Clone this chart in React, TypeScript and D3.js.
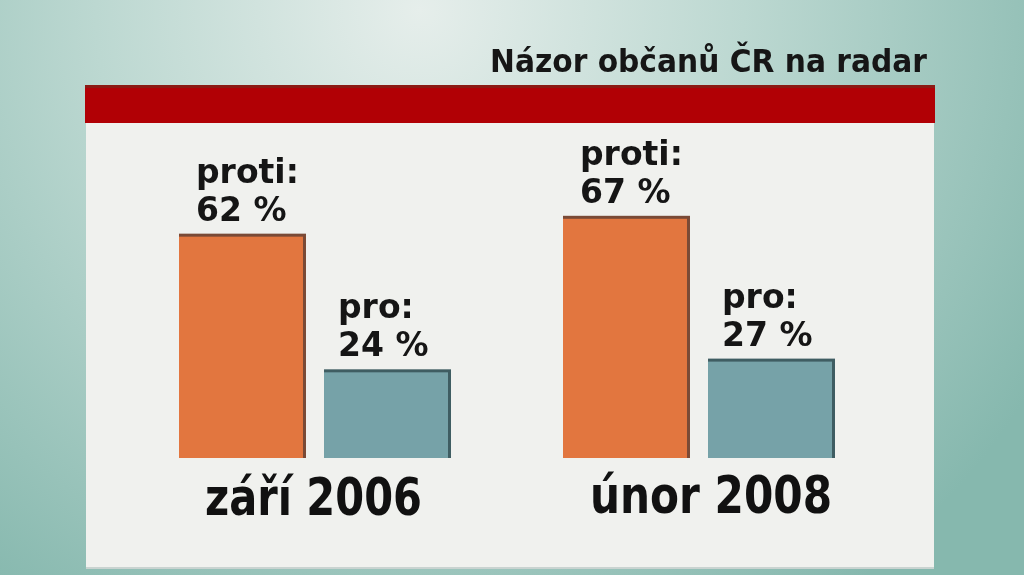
import React from "react";
import * as d3 from "d3";

const title = "Názor občanů ČR na radar";
const periods = ["září 2006", "únor 2008"];
const series = ["proti", "pro"];
const seriesLabels = ["proti:", "pro:"];
const protiValues = [62, 67];
const proValues = [24, 27];
const colors = ["#e2763f", "#76a2a8"];
const edgeColors = ["#7a4a36", "#3f5d62"];

const W = 1024;
const H = 575;

export default function App() {
  const baseline = 458;
  const y = d3.scaleLinear().domain([0, 100]).range([baseline, baseline - 357]);
  const xGroup = d3.scaleBand<string>().domain(periods).range([179, 179 + 384 * 2]).paddingInner(0).paddingOuter(0);
  const xInner = d3.scaleBand<string>().domain(series).range([0, 269]).paddingInner(0.145).paddingOuter(0);
  const valuesBySeries = [protiValues, proValues];
  const labelOffsets = [17, 14];

  return (
    <svg width={W} height={H} style={{ position: "fixed", left: 0, top: 0 }} xmlns="http://www.w3.org/2000/svg">
      <defs>
        <radialGradient id="bg" cx="420" cy="10" r="720" gradientUnits="userSpaceOnUse">
          <stop offset="0" stopColor="#e6eeeb" />
          <stop offset="0.45" stopColor="#bcd8d1" />
          <stop offset="1" stopColor="#86b8ae" />
        </radialGradient>
        <linearGradient id="sideL" x1="0" x2="1" y1="0" y2="0">
          <stop offset="0" stopColor="#86bab0" />
          <stop offset="1" stopColor="#9cc6bd" />
        </linearGradient>
      </defs>
      <rect x={0} y={0} width={W} height={H} fill="url(#bg)" />
      {/* panel */}
      <rect x={86} y={123} width={848} height={446} fill="#f0f1ee" />
      <rect x={86} y={567} width={848} height={2} fill="#c9d3d0" />
      {/* red bar */}
      <rect x={85} y={85} width={850} height={38} fill="#b10005" />
      <rect x={85} y={85} width={850} height={3} fill="#8c1a14" />
      {/* title */}
      <text
        x={490}
        y={72}
        textLength={437}
        lengthAdjust="spacingAndGlyphs"
        fontFamily="'DejaVu Sans Condensed', 'DejaVu Sans', sans-serif"
        fontWeight="bold"
        fontSize={32}
        fill="#161616"
      >
        {title}
      </text>
      {periods.map((p, gi) => {
        const gx = xGroup(p)!;
        return (
          <g key={p}>
            {series.map((s, si) => {
              const v = valuesBySeries[si][gi];
              const bx = gx + xInner(s)!;
              const bw = xInner.bandwidth();
              const top = y(v);
              return (
                <g key={s}>
                  <rect x={bx} y={top - 3} width={bw + 3} height={baseline - top + 3} fill={edgeColors[si]} />
                  <rect x={bx} y={top} width={bw} height={baseline - top} fill={colors[si]} />
                  <text
                    x={bx + labelOffsets[si]}
                    y={top - 54}
                    fontFamily="'DejaVu Sans', Verdana, sans-serif"
                    fontWeight="bold"
                    fontSize={33}
                    fill="#151515"
                  >
                    {seriesLabels[si]}
                  </text>
                  <text
                    x={bx + labelOffsets[si]}
                    y={top - 16}
                    fontFamily="'DejaVu Sans', Verdana, sans-serif"
                    fontWeight="bold"
                    fontSize={33}
                    fill="#151515"
                  >
                    {`${v} %`}
                  </text>
                </g>
              );
            })}
            <text
              x={gx + 26 + gi}
              y={515 - gi * 2}
              textLength={gi === 0 ? 217 : 242}
              lengthAdjust="spacingAndGlyphs"
              fontFamily="'DejaVu Sans Condensed', 'DejaVu Sans', sans-serif"
              fontWeight="bold"
              fontSize={52}
              fill="#111"
            >
              {p}
            </text>
          </g>
        );
      })}
    </svg>
  );
}
